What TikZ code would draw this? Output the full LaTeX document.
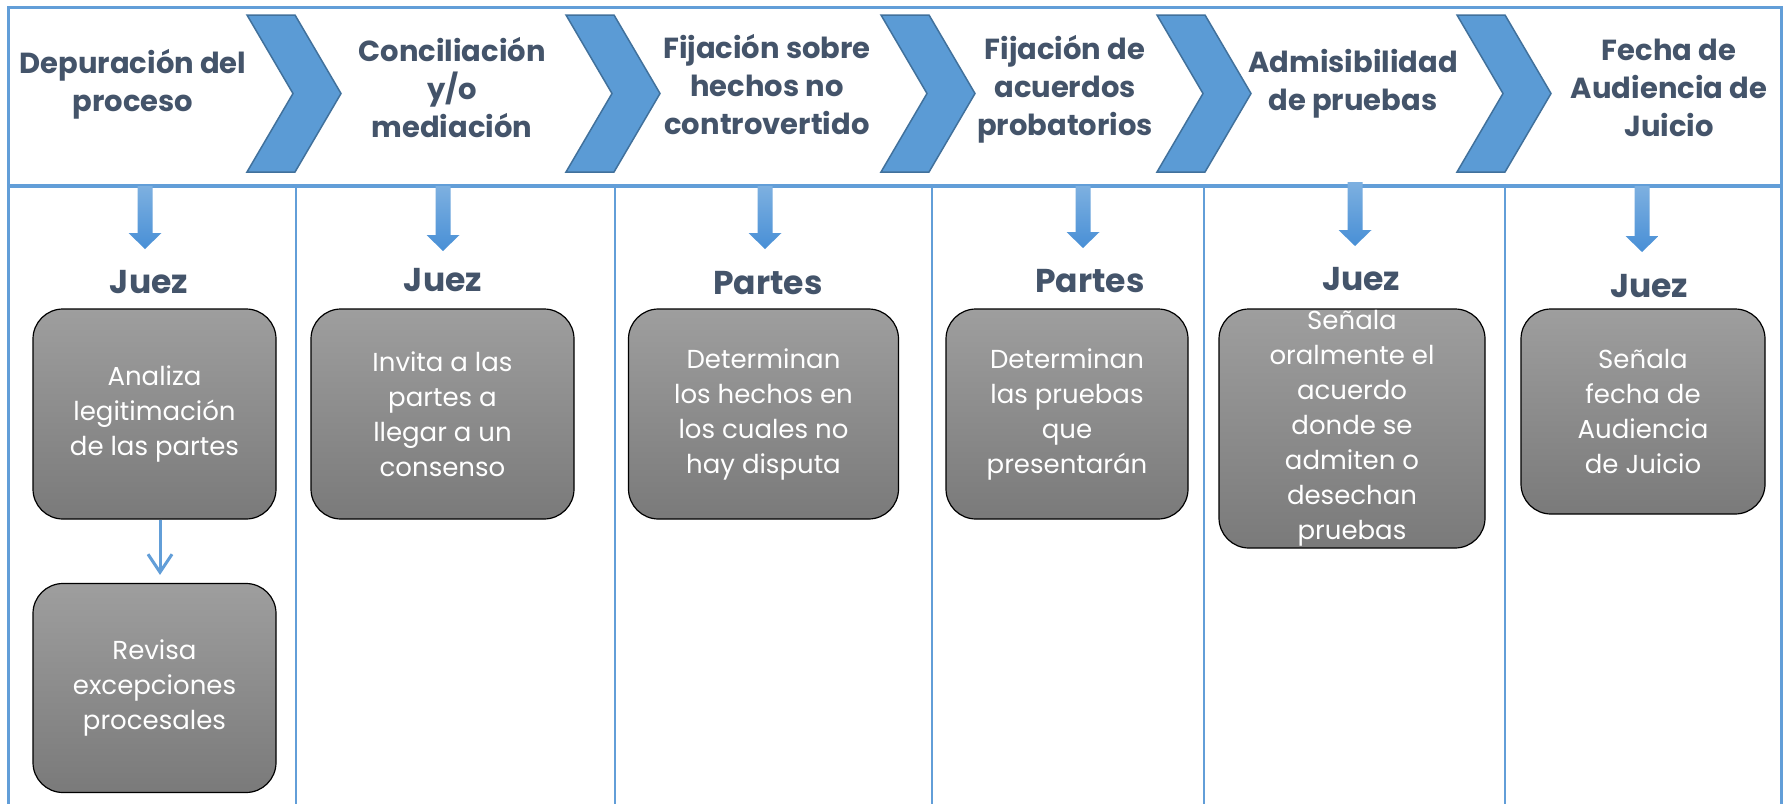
\documentclass[tikz,border=0pt]{standalone}
\usepackage{fontspec}
\setmainfont{Poppins}
\usetikzlibrary{arrows.meta}
\definecolor{lineblue}{RGB}{98,158,216}
\definecolor{chevfill}{RGB}{91,155,213}
\definecolor{chevdraw}{RGB}{65,113,156}
\definecolor{headtext}{RGB}{68,84,106}
\definecolor{boxtop}{RGB}{158,158,158}
\definecolor{boxbot}{RGB}{122,122,122}
\definecolor{arrtop}{RGB}{125,176,224}
\definecolor{arrbot}{RGB}{72,143,214}
\tikzset{
  chev/.style={fill=chevfill, draw=chevdraw, line width=1.5pt, line join=miter},
  downarr/.style={top color=arrtop, bottom color=arrbot, draw=none},
  heading/.style={text=headtext, align=center, font=\bfseries\fontsize{29}{38}\selectfont, inner sep=0pt},
  who/.style={text=headtext, font=\bfseries\fontsize{33}{38}\selectfont, inner sep=0pt, anchor=base},
  box/.style={draw=black, line width=1.2pt, rounded corners=30pt, top color=boxtop, bottom color=boxbot, inner sep=0pt},
  boxtext/.style={text=white, align=center, font=\fontsize{26}{35}\selectfont, inner sep=0pt},
  framel/.style={draw=lineblue, line width=3pt},
  sepl/.style={draw=lineblue, line width=1.3pt},
  thinarrow/.style={draw=lineblue, line width=3pt, -{Straight Barb[length=18pt, width=24pt, line width=3pt]}}
}
\newcommand{\mychevron}[1]{%
  \path[chev] (#1,15) -- ({#1+48},15) -- ({#1+94},93.5) -- ({#1+48},172) -- (#1,172) -- ({#1+46},93.5) -- cycle;}
\newcommand{\mydnarrow}[4]{% center, top, headstart, tip
  \path[downarr] ({#1-7.5},#2) -- ({#1+7.5},#2) -- ({#1+7.5},#3) -- ({#1+16.5},#3) -- (#1,#4) -- ({#1-16.5},#3) -- ({#1-7.5},#3) -- cycle;}
\begin{document}
\begin{tikzpicture}[x=1pt, y=-1pt]
\useasboundingbox (0,0) rectangle (1790,803);
\fill[white] (0,0) rectangle (1790,803);
% frame
\draw[framel] (8,810) -- (8,7) -- (1781,7) -- (1781,810);
\draw[draw=lineblue, line width=4pt] (8,186) -- (1781,186);
\foreach \x in {296,615,932,1204,1505} { \draw[sepl] (\x,188) -- (\x,810); }
% chevrons
\mychevron{247}
\mychevron{566}
\mychevron{881}
\mychevron{1157}
\mychevron{1457}
% headings
\node[heading] (h1) at (133,84) {Depuración del\\proceso};
\node[heading] (h2) at (452,88) {Conciliación\\y/o\\mediación};
\node[heading] (h3) at (767,85) {Fijación sobre\\hechos no\\controvertido};
\node[heading] (h4) at (1065,89) {Fijación de\\acuerdos\\probatorios};
\node[heading] (h5) at (1353,84) {Admisibilidad\\de pruebas};
\node[heading] (h6) at (1669,88) {Fecha de\\Audiencia de\\Juicio};
% down arrows
\mydnarrow{145}{186}{233}{249}
\mydnarrow{443}{186}{235}{251}
\mydnarrow{765}{186}{233}{249}
\mydnarrow{1083}{186}{232}{248}
\mydnarrow{1355}{182}{230}{246}
\mydnarrow{1642}{186}{236}{252}
% actors
\node[who] (w1) at (149,293) {Juez};
\node[who] (w2) at (443,291) {Juez};
\node[who] (w3) at (768,294) {Partes};
\node[who] (w4) at (1090,292) {Partes};
\node[who] (w5) at (1361,290) {Juez};
\node[who] (w6) at (1649,297) {Juez};
% boxes
\node[box, minimum width=243pt, minimum height=210pt] (b1) at (154.5,414) {};
\node[boxtext] (t1) at (b1.center) {Analiza\\legitimación\\de las partes};
\node[box, minimum width=243pt, minimum height=209pt] (b1b) at (154.5,688) {};
\node[boxtext] (t1b) at (b1b.center) {Revisa\\excepciones\\procesales};
\node[box, minimum width=263pt, minimum height=210pt] (b2) at (442.5,414) {};
\node[boxtext] (t2) at (b2.center) {Invita a las\\partes a\\llegar a un\\consenso};
\node[box, minimum width=270pt, minimum height=210pt] (b3) at (763.5,414) {};
\node[boxtext] (t3) at (b3.center) {Determinan\\los hechos en\\los cuales no\\hay disputa};
\node[box, minimum width=242pt, minimum height=210pt] (b4) at (1067,414) {};
\node[boxtext] (t4) at (b4.center) {Determinan\\las pruebas\\que\\presentarán};
\node[box, minimum width=266pt, minimum height=239pt] (b5) at (1352,428.5) {};
\node[boxtext] (t5) at (b5.center) {Señala\\oralmente el\\acuerdo\\donde se\\admiten o\\desechan\\pruebas};
\node[box, minimum width=244pt, minimum height=205pt] (b6) at (1643,411.5) {};
\node[boxtext] (t6) at (b6.center) {Señala\\fecha de\\Audiencia\\de Juicio};
% connector
\draw[thinarrow] ([xshift=5.5pt]b1.south) -- ([xshift=5.5pt,yshift=8pt]b1b.north);
\end{tikzpicture}
\end{document}
